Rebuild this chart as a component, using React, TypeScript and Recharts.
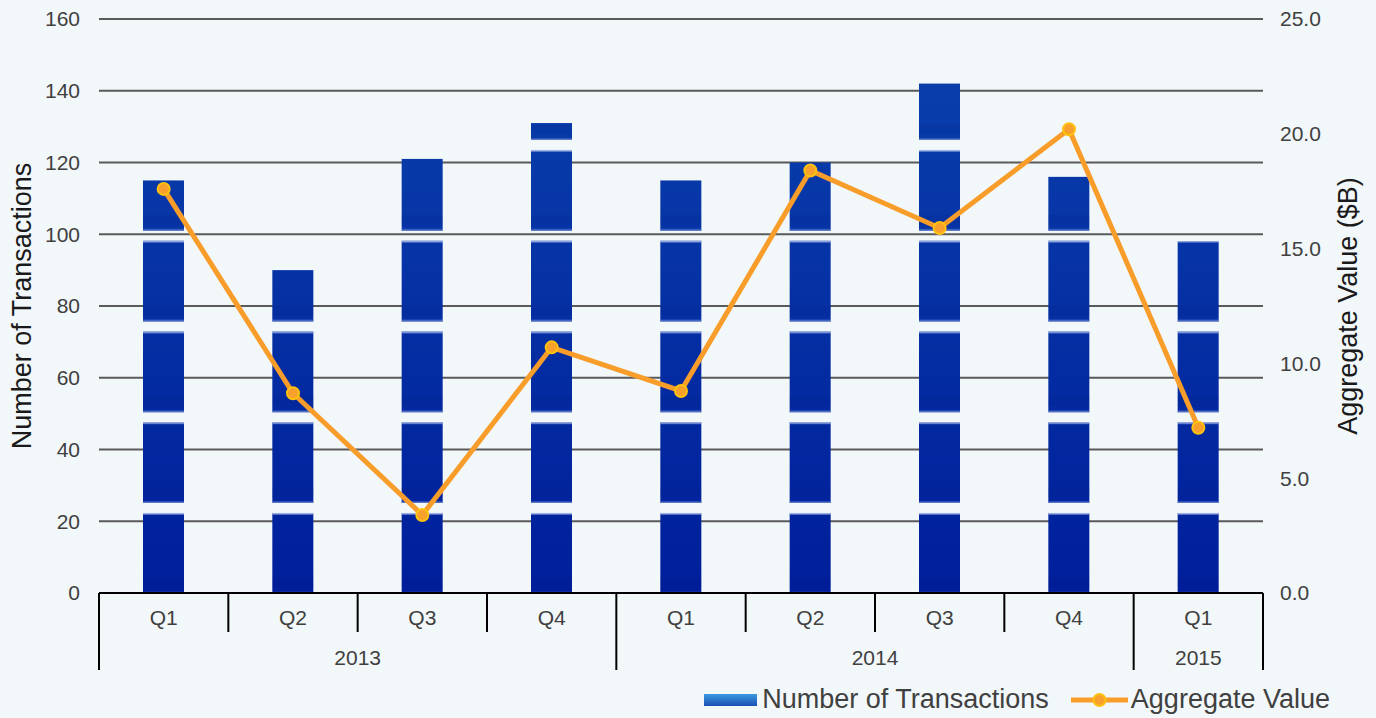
import React from 'react';
import {
  ComposedChart,
  Bar,
  Line,
  XAxis,
  YAxis,
  CartesianGrid,
  Legend,
} from 'recharts';

const QUARTERS = ['Q1', 'Q2', 'Q3', 'Q4', 'Q1', 'Q2', 'Q3', 'Q4', 'Q1'];
const YEARS = ['2013', '2013', '2013', '2013', '2014', '2014', '2014', '2014', '2015'];
const TRANSACTIONS = [115, 90, 121, 131, 115, 120, 142, 116, 98];
const AGGREGATE_VALUE = [17.6, 8.7, 3.4, 10.7, 8.8, 18.4, 15.9, 20.2, 7.2];
const LEFT_TICKS = [0, 20, 40, 60, 80, 100, 120, 140, 160];
const RIGHT_TICKS = [0, 5, 10, 15, 20, 25];

const data = QUARTERS.map((q, i) => ({
  id: `${YEARS[i]}-${q}`,
  quarter: q,
  year: YEARS[i],
  transactions: TRANSACTIONS[i],
  value: AGGREGATE_VALUE[i],
}));

const W = 1376;
const H = 718;
const LEFT_W = 99;
const RIGHT_W = 113;
const PLOT_W = W - LEFT_W - RIGHT_W;
const BAND = PLOT_W / QUARTERS.length;

const FONT = '"Liberation Sans", Arial, sans-serif';
const TICK_COLOR = '#404040';
const TICK_FS = 21;

const QuarterTick = (props: any) => {
  const { x, y, payload } = props;
  const i: number = payload.index ?? props.index;
  const half = typeof payload.offset === 'number' && payload.offset > 0 ? payload.offset : BAND / 2;
  const left = x - half;
  const right = x + half;
  const groupStart = i === 0 || YEARS[i] !== YEARS[i - 1];
  const isLast = i === QUARTERS.length - 1;
  let groupSize = 0;
  if (groupStart) {
    for (let k = i; k < YEARS.length && YEARS[k] === YEARS[i]; k++) groupSize++;
  }
  return (
    <g>
      <line x1={left} x2={left} y1={y} y2={y + (groupStart ? 77 : 39)} stroke="#000" strokeWidth={2} />
      {isLast && <line x1={right} x2={right} y1={y} y2={y + 77} stroke="#000" strokeWidth={2} />}
      <text x={x} y={y + 24} textAnchor="middle" dominantBaseline="central" fill={TICK_COLOR} fontSize={TICK_FS} fontFamily={FONT}>
        {QUARTERS[i]}
      </text>
      {groupStart && (
        <text
          x={left + groupSize * half}
          y={y + 64}
          textAnchor="middle"
          dominantBaseline="central"
          fill={TICK_COLOR}
          fontSize={TICK_FS}
          fontFamily={FONT}
        >
          {YEARS[i]}
        </text>
      )}
    </g>
  );
};

const StripedBar = (props: any) => {
  const { x, y, width, height } = props;
  if (!height || height <= 0) return null;
  return (
    <g>
      <rect x={x} y={y} width={width} height={height} fill="url(#barGrad)" mask="url(#stripeMask)" />
      <rect x={x} y={y} width={width} height={height} fill="url(#edgePattern)" />
    </g>
  );
};

const LeftTitle = (props: any) => {
  const vb = props.viewBox || { x: 0, y: 19, width: LEFT_W, height: 574 };
  const cx = vb.x + 22;
  const cy = vb.y + vb.height / 2;
  return (
    <text
      x={cx}
      y={cy}
      transform={`rotate(-90, ${cx}, ${cy})`}
      textAnchor="middle"
      dominantBaseline="central"
      fontSize={27}
      fontFamily={FONT}
      fill="#1a1a1a"
    >
      Number of Transactions
    </text>
  );
};

const RightTitle = (props: any) => {
  const vb = props.viewBox || { x: W - RIGHT_W, y: 19, width: RIGHT_W, height: 574 };
  const cx = vb.x + 85;
  const cy = vb.y + vb.height / 2;
  return (
    <text
      x={cx}
      y={cy}
      transform={`rotate(-90, ${cx}, ${cy})`}
      textAnchor="middle"
      dominantBaseline="central"
      fontSize={27}
      fontFamily={FONT}
      fill="#1a1a1a"
    >
      Aggregate Value ($B)
    </text>
  );
};

const LegendContent = () => (
  <div style={{ display: 'flex', alignItems: 'center', justifyContent: 'flex-end', fontFamily: FONT, fontSize: 27, color: TICK_COLOR, paddingRight: 46 }}>
    <svg width={53} height={16} style={{ marginRight: 5 }}>
      <defs>
        <linearGradient id="legendGrad" x1="0" y1="0" x2="0" y2="1">
          <stop offset="0%" stopColor="#3a9ae0" />
          <stop offset="100%" stopColor="#1b4fb5" />
        </linearGradient>
      </defs>
      <rect x={0} y={2} width={53} height={12} fill="url(#legendGrad)" />
    </svg>
    <span style={{ marginRight: 22 }}>Number of Transactions</span>
    <svg width={57} height={16} style={{ marginRight: 3 }}>
      <line x1={0} x2={57} y1={8} y2={8} stroke="#f89c2a" strokeWidth={5} />
      <circle cx={28.5} cy={8} r={6} fill="#f7a02c" stroke="#ffc20e" strokeWidth={2} />
    </svg>
    <span>Aggregate Value</span>
  </div>
);

export default function App() {
  return (
    <div style={{ position: 'absolute', left: 0, top: 0, width: W, height: H, background: '#f2f7fa', overflow: 'hidden' }}>
      <ComposedChart width={W} height={H} data={data} margin={{ top: 19, right: 0, bottom: 0, left: 0 }}>
        <defs>
          <linearGradient id="barGrad" gradientUnits="userSpaceOnUse" x1="0" y1="19" x2="0" y2="593">
            <stop offset="0%" stopColor="#0a42ad" />
            <stop offset="100%" stopColor="#001e9b" />
          </linearGradient>
          <pattern id="stripePattern" patternUnits="userSpaceOnUse" x="0" y="503" width={W} height="90.75">
            <rect x="0" y="0" width={W} height="90.75" fill="#fff" />
            <rect x="0" y="0" width={W} height="10" fill="#000" />
          </pattern>
          <mask id="stripeMask" maskUnits="userSpaceOnUse" maskContentUnits="userSpaceOnUse" x="0" y="0" width={W} height={H}>
            <rect x="0" y="0" width={W} height={H} fill="url(#stripePattern)" />
          </mask>
          <pattern id="edgePattern" patternUnits="userSpaceOnUse" x="0" y="503" width={W} height="90.75">
            <rect x="0" y="89.25" width={W} height="1.5" fill="#6f8ad0" opacity="0.8" />
            <rect x="0" y="10" width={W} height="1.5" fill="#b5c6ee" opacity="0.9" />
            <rect x="0" y="75" width={W} height="10" fill="#001a80" opacity="0.12" />
          </pattern>
        </defs>
        <CartesianGrid yAxisId="left" vertical={false} stroke="#5a5a5a" strokeWidth={2} />
        <XAxis
          dataKey="id"
          height={125}
          interval={0}
          tickLine={false}
          tickSize={0}
          tickMargin={0}
          axisLine={{ stroke: '#000', strokeWidth: 2 }}
          tick={<QuarterTick />}
        />
        <YAxis
          yAxisId="left"
          orientation="left"
          width={LEFT_W}
          domain={[0, 160]}
          ticks={LEFT_TICKS}
          axisLine={false}
          tickLine={false}
          tickSize={0}
          tickMargin={19}
          tick={{ fill: TICK_COLOR, fontSize: TICK_FS, fontFamily: FONT }}
          label={{ content: <LeftTitle /> }}
        />
        <YAxis
          yAxisId="right"
          orientation="right"
          width={RIGHT_W}
          domain={[0, 25]}
          ticks={RIGHT_TICKS}
          axisLine={false}
          tickLine={false}
          tickSize={0}
          tickMargin={17}
          tickFormatter={(v: number) => v.toFixed(1)}
          tick={{ fill: TICK_COLOR, fontSize: TICK_FS, fontFamily: FONT }}
          label={{ content: <RightTitle /> }}
        />
        <Legend
          layout="horizontal"
          verticalAlign="middle"
          align="center"
          content={<LegendContent />}
          wrapperStyle={{ position: 'absolute', left: 0, top: 684, width: W, height: 32 }}
        />
        <Bar
          yAxisId="left"
          dataKey="transactions"
          name="Number of Transactions"
          barSize={41}
          shape={<StripedBar />}
          isAnimationActive={false}
        />
        <Line
          yAxisId="right"
          dataKey="value"
          name="Aggregate Value"
          type="linear"
          stroke="#f89c2a"
          strokeWidth={5}
          dot={{ r: 6, fill: '#f7a02c', stroke: '#ffc20e', strokeWidth: 2 }}
          activeDot={false}
          isAnimationActive={false}
        />
      </ComposedChart>
    </div>
  );
}
